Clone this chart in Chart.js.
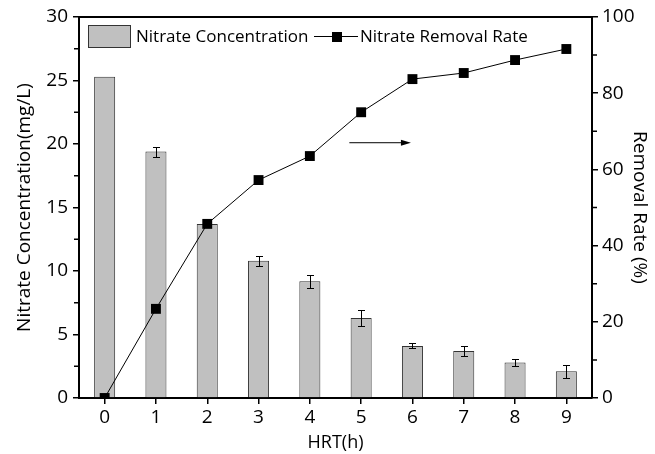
<!DOCTYPE html>
<html>
<head>
<meta charset="utf-8">
<script src="https://cdn.jsdelivr.net/npm/chart.js@4/dist/chart.umd.min.js"></script>
<style>
  html, body { margin: 0; padding: 0; background: #fff; }
  #wrap { width: 655px; height: 454px; }
</style>
</head>
<body>
<div id="wrap"><canvas id="chart" width="655" height="454"></canvas></div>
<script>
// data
const hrtLabels = ['0', '1', '2', '3', '4', '5', '6', '7', '8', '9'];
const nitrateConc = [25.3, 19.4, 13.7, 10.8, 9.2, 6.3, 4.1, 3.7, 2.8, 2.1];
const nitrateErr = [0, 0.4, 0, 0.4, 0.5, 0.6, 0.2, 0.4, 0.3, 0.5];
const removalRate = [0, 23.4, 45.7, 57.2, 63.5, 75.0, 83.7, 85.3, 88.7, 91.6];
const concTicks = [0, 5, 10, 15, 20, 25, 30];
const rateTicks = [0, 20, 40, 60, 80, 100];

const FONT = '"Open Sans", "Noto Sans", sans-serif';

// error bars, minor ticks, top frame, arrow and legend
const extras = {
    id: 'extras',
    afterDatasetsDraw(chart) {
        const ctx = chart.ctx;
        const x = chart.scales.x;
        const y = chart.scales.y;
        ctx.save();
        ctx.strokeStyle = '#000';
        ctx.lineWidth = 1;
        nitrateErr.forEach((e, i) => {
            if (!e) return;
            const px = Math.round(x.getPixelForValue(i));
            const top = Math.round(y.getPixelForValue(nitrateConc[i] + e));
            const bot = Math.round(y.getPixelForValue(nitrateConc[i] - e));
            ctx.beginPath();
            ctx.moveTo(px + 0.5, top); ctx.lineTo(px + 0.5, bot);
            ctx.moveTo(px - 3, top + 0.5); ctx.lineTo(px + 4, top + 0.5);
            ctx.moveTo(px - 3, bot + 0.5); ctx.lineTo(px + 4, bot + 0.5);
            ctx.stroke();
        });
        ctx.restore();
    },
    afterDraw(chart) {
        const ctx = chart.ctx;
        const x = chart.scales.x;
        const y = chart.scales.y;
        const y1 = chart.scales.y1;
        const area = chart.chartArea;
        ctx.save();
        ctx.strokeStyle = '#000';
        ctx.fillStyle = '#000';

        // top frame
        ctx.lineWidth = 2;
        ctx.beginPath();
        ctx.moveTo(area.left - 1, area.top);
        ctx.lineTo(area.right + 1, area.top);
        ctx.stroke();

        // minor ticks
        ctx.lineWidth = 1.5;
        ctx.beginPath();
        for (let v = 2.5; v < 30; v += 5) {
            const py = y.getPixelForValue(v);
            ctx.moveTo(area.left - 1, py); ctx.lineTo(area.left - 5, py);
        }
        for (let v = 10; v < 100; v += 20) {
            const py = y1.getPixelForValue(v);
            ctx.moveTo(area.right + 1, py); ctx.lineTo(area.right + 5, py);
        }
        ctx.stroke();

        // arrow pointing to the right axis
        const ay = y1.getPixelForValue(67);
        const ax0 = x.getPixelForValue(4.77);
        const ax1 = x.getPixelForValue(5.97);
        ctx.lineWidth = 1;
        ctx.beginPath();
        ctx.moveTo(ax0, ay); ctx.lineTo(ax1 - 8, ay);
        ctx.stroke();
        ctx.beginPath();
        ctx.moveTo(ax1, ay);
        ctx.lineTo(ax1 - 10, ay - 3);
        ctx.lineTo(ax1 - 10, ay + 3);
        ctx.closePath();
        ctx.fill();

        // legend
        ctx.fillStyle = '#c0c0c0';
        ctx.fillRect(88, 25, 42, 22);
        ctx.strokeStyle = '#333';
        ctx.lineWidth = 1;
        ctx.strokeRect(88.5, 25.5, 42, 22);
        ctx.fillStyle = '#000';
        ctx.font = '17px ' + FONT;
        ctx.textBaseline = 'middle';
        ctx.textAlign = 'left';
        ctx.fillText('Nitrate Concentration', 136, 37);
        ctx.strokeStyle = '#000';
        ctx.beginPath();
        ctx.moveTo(314, 36.5); ctx.lineTo(358, 36.5);
        ctx.stroke();
        ctx.fillRect(332, 32, 10, 10);
        ctx.fillText('Nitrate Removal Rate', 360, 37);
        ctx.restore();
    }
};

new Chart(document.getElementById('chart'), {
    type: 'bar',
    data: {
        labels: hrtLabels,
        datasets: [
            {
                type: 'line',
                label: 'Nitrate Removal Rate',
                data: removalRate,
                yAxisID: 'y1',
                borderColor: '#000',
                borderWidth: 1,
                backgroundColor: '#000',
                pointStyle: 'rect',
                pointRadius: 7,
                pointBorderWidth: 0,
                tension: 0,
                order: 0
            },
            {
                label: 'Nitrate Concentration',
                data: nitrateConc,
                yAxisID: 'y',
                backgroundColor: '#c0c0c0',
                borderColor: '#333',
                borderWidth: 1,
                barPercentage: 0.41,
                categoryPercentage: 1,
                order: 1
            }
        ]
    },
    options: {
        responsive: false,
        animation: false,
        devicePixelRatio: 1,
        layout: { padding: { top: 17, left: 0, right: 0, bottom: 0 } },
        plugins: {
            legend: { display: false },
            tooltip: { enabled: false }
        },
        scales: {
            x: {
                offset: true,
                grid: { offset: false, drawOnChartArea: false, tickLength: 6, color: '#000', lineWidth: 1.5 },
                border: { color: '#000', width: 2 },
                ticks: { color: '#000', font: { family: FONT, size: 19 }, padding: 2, maxRotation: 0 },
                title: { display: true, text: 'HRT(h)', color: '#000', font: { family: FONT, size: 18 }, padding: { top: 0, bottom: 0 } },
                afterFit(s) { s.height = 56; }
            },
            y: {
                position: 'left',
                min: 0, max: 30,
                afterBuildTicks(s) { s.ticks = concTicks.map(v => ({ value: v })); },
                grid: { drawOnChartArea: false, tickLength: 6, color: '#000', lineWidth: 1.5 },
                border: { color: '#000', width: 2 },
                ticks: { color: '#000', font: { family: FONT, size: 19 }, padding: 5 },
                title: { display: true, text: 'Nitrate Concentration(mg/L)', color: '#000', font: { family: FONT, size: 19 }, padding: { top: 13, bottom: 0 } },
                afterFit(s) { s.width = 79; }
            },
            y1: {
                position: 'right',
                min: 0, max: 100,
                afterBuildTicks(s) { s.ticks = rateTicks.map(v => ({ value: v })); },
                grid: { drawOnChartArea: false, tickLength: 6, color: '#000', lineWidth: 1.5 },
                border: { color: '#000', width: 2 },
                ticks: { color: '#000', font: { family: FONT, size: 19 }, padding: 4 },
                title: { display: true, text: 'Removal Rate (%)', color: '#000', font: { family: FONT, size: 19 }, padding: { top: 4, bottom: 0 } },
                afterFit(s) { s.width = 63; }
            }
        }
    },
    plugins: [extras]
});
</script>
</body>
</html>
